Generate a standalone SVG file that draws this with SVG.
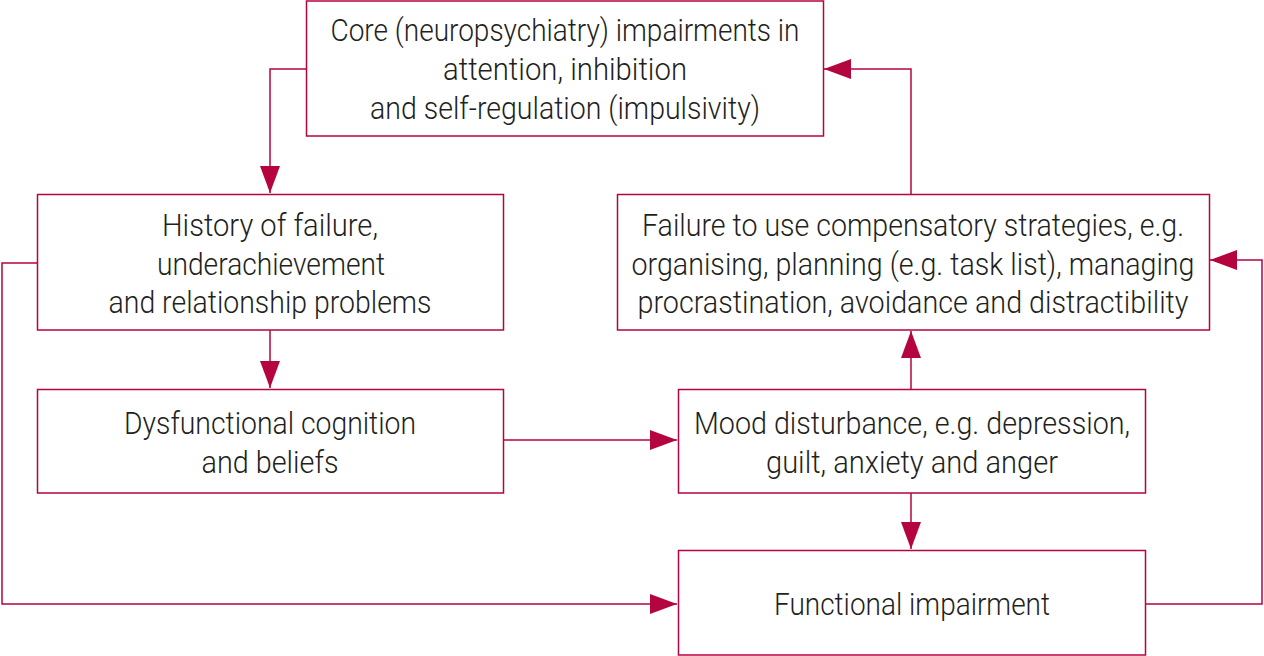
<svg xmlns="http://www.w3.org/2000/svg" width="1264" height="656" viewBox="0 0 1264 656">
<style>
.box{fill:#fff;stroke:#b5053e;stroke-width:1.5}
.ln{fill:none;stroke:#b5053e;stroke-width:1.5}
text{font-family:Roboto,"Liberation Sans",sans-serif;font-size:32px;font-weight:300;fill:#231f20;text-anchor:middle}
</style>
<defs>
<marker id="ah" markerUnits="userSpaceOnUse" markerWidth="28" markerHeight="22" refX="27" refY="11" orient="auto">
<path d="M0,1 L27,11 L0,21 Z" fill="#b5053e"/>
</marker>
</defs>
<rect width="1264" height="656" fill="#fff"/>
<g id="connectors">
<polyline class="ln" points="306,69 270,69 270,193" marker-end="url(#ah)"/>
<polyline class="ln" points="270,330 270,388" marker-end="url(#ah)"/>
<polyline class="ln" points="503,440 677,440" marker-end="url(#ah)"/>
<polyline class="ln" points="911,389 911,331" marker-end="url(#ah)"/>
<polyline class="ln" points="911,493 911,549" marker-end="url(#ah)"/>
<polyline class="ln" points="911,194 911,69 824,69" marker-end="url(#ah)"/>
<polyline class="ln" points="1145,604 1262,604 1262,260 1210,260" marker-end="url(#ah)"/>
<polyline class="ln" points="37,263 2,263 2,604 677,604" marker-end="url(#ah)"/>
</g>
<g id="core">
<rect class="box" x="306.5" y="1" width="517" height="135"/>
<text x="565" y="41" textLength="469" lengthAdjust="spacingAndGlyphs">Core (neuropsychiatry) impairments in</text>
<text x="565" y="80" textLength="244" lengthAdjust="spacingAndGlyphs">attention, inhibition</text>
<text x="565" y="119" textLength="390" lengthAdjust="spacingAndGlyphs">and self-regulation (impulsivity)</text>
</g>
<g id="history">
<rect class="box" x="37.5" y="194.5" width="466" height="135.5"/>
<text x="270" y="236" textLength="216" lengthAdjust="spacingAndGlyphs">History of failure,</text>
<text x="271" y="275" textLength="228" lengthAdjust="spacingAndGlyphs">underachievement</text>
<text x="270" y="313" textLength="323" lengthAdjust="spacingAndGlyphs">and relationship problems</text>
</g>
<g id="dysfunctional">
<rect class="box" x="37.5" y="389.5" width="466" height="103.5"/>
<text x="270" y="434" textLength="292" lengthAdjust="spacingAndGlyphs">Dysfunctional cognition</text>
<text x="270" y="473" textLength="137" lengthAdjust="spacingAndGlyphs">and beliefs</text>
</g>
<g id="failure">
<rect class="box" x="617.5" y="194.5" width="592" height="135.5"/>
<text x="913" y="236" textLength="542" lengthAdjust="spacingAndGlyphs">Failure to use compensatory strategies, e.g.</text>
<text x="913" y="275" textLength="563" lengthAdjust="spacingAndGlyphs">organising, planning (e.g. task list), managing</text>
<text x="913" y="313" textLength="551" lengthAdjust="spacingAndGlyphs">procrastination, avoidance and distractibility</text>
</g>
<g id="mood">
<rect class="box" x="678.5" y="389.5" width="467" height="103.5"/>
<text x="912" y="434" textLength="436" lengthAdjust="spacingAndGlyphs">Mood disturbance, e.g. depression,</text>
<text x="912" y="473" textLength="292" lengthAdjust="spacingAndGlyphs">guilt, anxiety and anger</text>
</g>
<g id="functional">
<rect class="box" x="678.5" y="550.5" width="467" height="104.5"/>
<text x="912" y="615" textLength="276" lengthAdjust="spacingAndGlyphs">Functional impairment</text>
</g>
</svg>
